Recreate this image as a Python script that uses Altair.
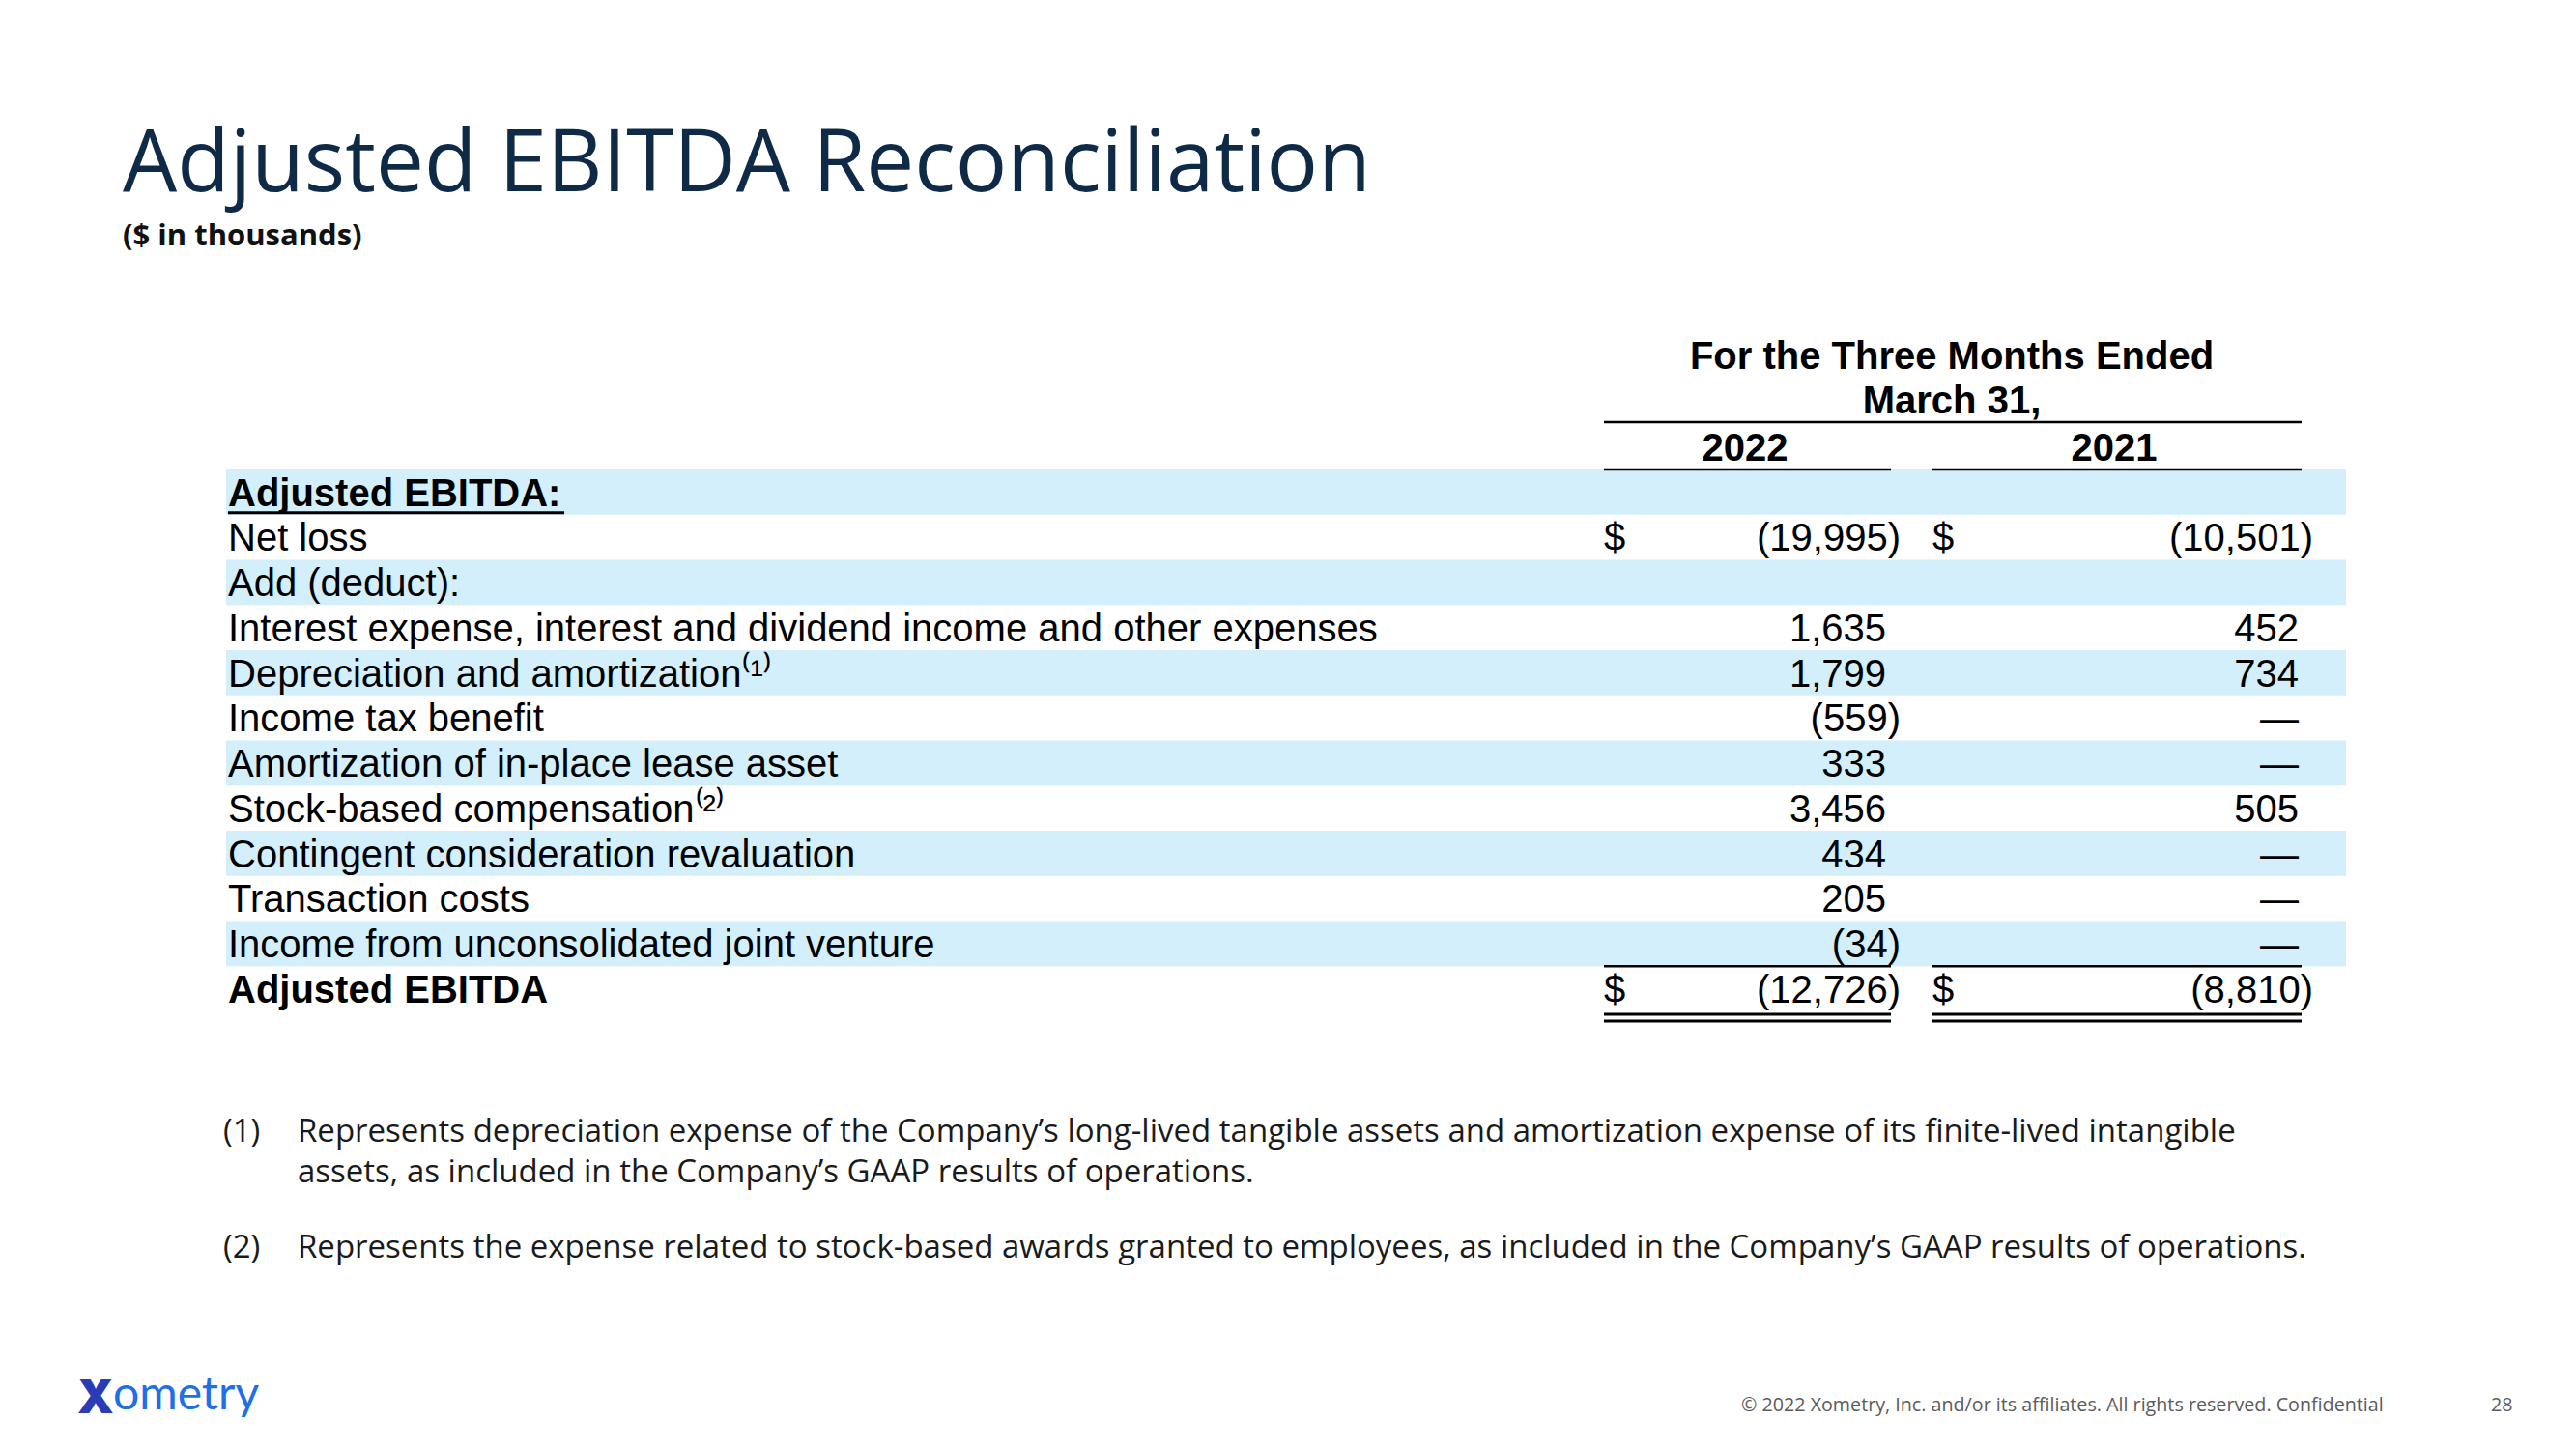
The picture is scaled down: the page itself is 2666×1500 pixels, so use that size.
import altair as alt
import pandas as pd

# ---------------- data ----------------
title_text = "Adjusted EBITDA Reconciliation"
subtitle_text = "($ in thousands)"
header_lines = ["For the Three Months Ended", "March 31,"]
year_labels = ["2022", "2021"]

row_labels = [
    "Adjusted EBITDA:",
    "Net loss",
    "Add (deduct):",
    "Interest expense, interest and dividend income and other expenses",
    "Depreciation and amortization",
    "Income tax benefit",
    "Amortization of in-place lease asset",
    "Stock-based compensation",
    "Contingent consideration revaluation",
    "Transaction costs",
    "Income from unconsolidated joint venture",
    "Adjusted EBITDA",
]
row_marks = ["", "", "", "", "⁽¹⁾", "", "", "⁽²⁾", "", "", "", ""]
values_2022 = [None, -19995, None, 1635, 1799, -559, 333, 3456, 434, 205, -34, -12726]
values_2021 = [None, -10501, None, 452, 734, 0, 0, 505, 0, 0, 0, -8810]
dollar_rows = [1, 11]
bold_rows = [0, 11]
banded_rows = [0, 2, 4, 6, 8, 10]

footnote_ids = ["(1)", "", "(2)"]
footnote_lines = [
    "Represents depreciation expense of the Company’s long-lived tangible assets and amortization expense of its finite-lived intangible",
    "assets, as included in the Company’s GAAP results of operations.",
    "Represents the expense related to stock-based awards granted to employees, as included in the Company’s GAAP results of operations.",
]
footer_text = "© 2022  Xometry, Inc. and/or its affiliates. All rights reserved. Confidential"
page_number = "28"
logo_parts = ["X", "ometry"]

# ---------------- layout ----------------
W, H = 2648, 1482
OX, OY = 8, 8
XS = alt.Scale(domain=[OX, OX + W], range=[0, W], nice=False, zero=False)
YS = alt.Scale(domain=[OY, OY + H], range=[0, H], nice=False, zero=False)

TABLE_TOP = 486.0
ROW_H = 46.75
LABEL_X = 236
BAND_X = (234, 2428)
BODY_FONT = "Liberation Sans"
BODY_SIZE = 40
COLS = {
    "2022": dict(rule=(1660, 1957), digit=1952, paren=1967, dollar=1660, center=1806),
    "2021": dict(rule=(2000, 2382), digit=2379, paren=2394, dollar=2000, center=2188),
}
HEAD_CENTER = 2020


def row_top(i):
    return TABLE_TOP + i * ROW_H


def row_base(i):
    return row_top(i) + 37.5


def fmt(v):
    if v is None:
        return ""
    if v == 0:
        return "—"
    if v < 0:
        return "({:,})".format(-v)
    return "{:,}".format(v)


def enc(ch):
    return ch.encode(
        x=alt.X("x:Q", scale=XS, axis=None),
        y=alt.Y("y:Q", scale=YS, axis=None),
        text=alt.Text("t:N"),
    )


def text_layer(df, font, size, weight="normal", color="#000000", align="left"):
    return enc(
        alt.Chart(df).mark_text(
            font=font, fontSize=size, fontWeight=weight, color=color,
            align=align, baseline="alphabetic",
        )
    )


# bands
bands = pd.DataFrame({
    "x": [BAND_X[0]] * len(banded_rows),
    "x2": [BAND_X[1]] * len(banded_rows),
    "y": [row_top(i) for i in banded_rows],
    "y2": [row_top(i) + ROW_H for i in banded_rows],
})
band_layer = alt.Chart(bands).mark_rect(color="#d3effb").encode(
    x=alt.X("x:Q", scale=XS, axis=None), x2="x2:Q",
    y=alt.Y("y:Q", scale=YS, axis=None), y2="y2:Q",
)

# rules
r = []
r.append((COLS["2022"]["rule"][0], COLS["2021"]["rule"][1], 437, 2.5))
for c in COLS.values():
    r.append((c["rule"][0], c["rule"][1], TABLE_TOP, 2.5))
    r.append((c["rule"][0], c["rule"][1], row_top(11), 2.5))
    r.append((c["rule"][0], c["rule"][1], row_top(12) + 3, 3))
    r.append((c["rule"][0], c["rule"][1], row_top(12) + 10, 3))
rules = pd.DataFrame(r, columns=["x", "x2", "y", "w"])
rule_layer = alt.Chart(rules).mark_rule(color="#000000").encode(
    x=alt.X("x:Q", scale=XS, axis=None), x2="x2:Q",
    y=alt.Y("y:Q", scale=YS, axis=None),
    strokeWidth=alt.StrokeWidth("w:Q", scale=None),
)
underline = pd.DataFrame({"x": [LABEL_X], "x2": [584], "y": [row_top(1) - 2], "w": [3]})
underline_layer = alt.Chart(underline).mark_rule(color="#000000").encode(
    x=alt.X("x:Q", scale=XS, axis=None), x2="x2:Q",
    y=alt.Y("y:Q", scale=YS, axis=None),
    strokeWidth=alt.StrokeWidth("w:Q", scale=None),
)

# header texts
head_df = pd.DataFrame({
    "x": [HEAD_CENTER, HEAD_CENTER, COLS["2022"]["center"], COLS["2021"]["center"]],
    "y": [382, 428, 477, 477],
    "t": header_lines + year_labels,
})
head_layer = text_layer(head_df, BODY_FONT, BODY_SIZE, "bold", align="center")

# labels
lab_reg = pd.DataFrame({
    "x": [LABEL_X] * len(row_labels),
    "y": [row_base(i) for i in range(len(row_labels))],
    "t": [row_labels[i] + row_marks[i] for i in range(len(row_labels))],
    "bold": [i in bold_rows for i in range(len(row_labels))],
})
lab_normal = text_layer(lab_reg[~lab_reg["bold"]], BODY_FONT, BODY_SIZE)
lab_bold = text_layer(lab_reg[lab_reg["bold"]], BODY_FONT, BODY_SIZE, "bold")

# values
vals = []
dollars = []
for key, series in (("2022", values_2022), ("2021", values_2021)):
    c = COLS[key]
    for i, v in enumerate(series):
        s = fmt(v)
        if not s:
            continue
        vals.append({"x": c["paren"] if s.endswith(")") else c["digit"], "y": row_base(i), "t": s})
    for i in dollar_rows:
        dollars.append({"x": c["dollar"], "y": row_base(i), "t": "$"})
val_layer = text_layer(pd.DataFrame(vals), BODY_FONT, BODY_SIZE, align="right")
dollar_layer = text_layer(pd.DataFrame(dollars), BODY_FONT, BODY_SIZE, align="left")

# title
title_layer = text_layer(pd.DataFrame({"x": [127], "y": [198], "t": [title_text]}),
                         "Open Sans", 89, color="#0f2a46")
sub_layer = text_layer(pd.DataFrame({"x": [127], "y": [254], "t": [subtitle_text]}),
                       "Open Sans", 31, "bold", color="#111111")

# footnotes
fn_y = [1182, 1224, 1302]
fn_id = text_layer(pd.DataFrame({"x": [231] * 3, "y": fn_y, "t": footnote_ids}),
                   "Open Sans", 33, color="#1a1a1a")
fn_tx = text_layer(pd.DataFrame({"x": [308] * 3, "y": fn_y, "t": footnote_lines}),
                   "Open Sans", 33, color="#1a1a1a")

# footer
foot_layer = text_layer(pd.DataFrame({"x": [1802, 2578], "y": [1461, 1461], "t": [footer_text, page_number]}),
                        "Open Sans", 19.7, color="#5b5b5b")
logo_x = text_layer(pd.DataFrame({"x": [80], "y": [1463], "t": [logo_parts[0]]}),
                    "Inter", 48, 900, color="#2a3bb6")
logo_o = text_layer(pd.DataFrame({"x": [117], "y": [1459], "t": [logo_parts[1]]}),
                    "Lato", 48, "normal", color="#1e6fe8")

chart = alt.layer(
    band_layer, rule_layer, underline_layer, head_layer, lab_normal, lab_bold,
    val_layer, dollar_layer, title_layer, sub_layer, fn_id, fn_tx,
    foot_layer, logo_x, logo_o,
).properties(
    width=W, height=H, padding=0, autosize=alt.AutoSizeParams(type="none"),
    background="#ffffff",
).configure_view(stroke=None)

chart.save("out.html", embed_options={"renderer": "svg", "actions": False})
